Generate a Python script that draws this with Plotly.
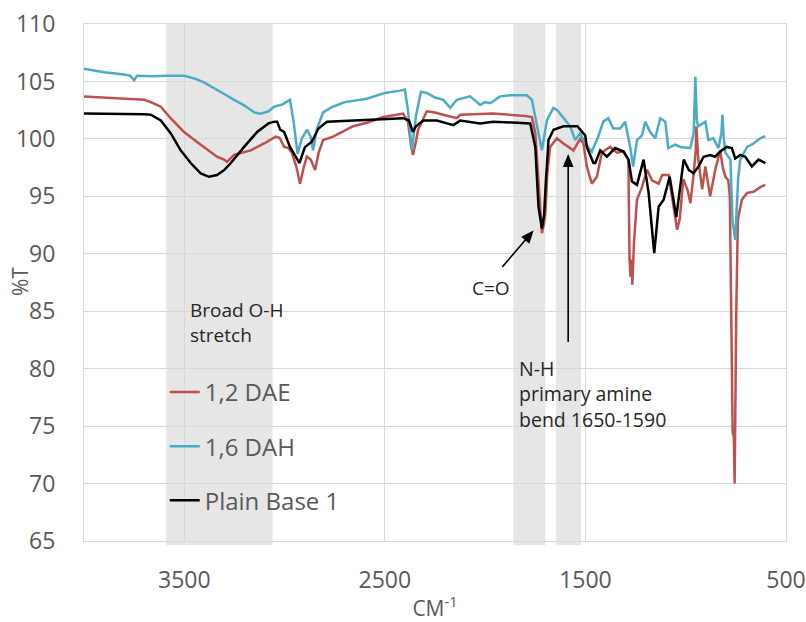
import plotly.graph_objects as go

# ---------------- data ----------------
dae_wn = [4000, 3900, 3800, 3700, 3667, 3617, 3568, 3501, 3418, 3337, 3302, 3287, 3252, 3169, 3102,
          3044, 3025, 3002, 2980, 2964, 2940, 2923, 2905, 2889, 2870, 2848, 2830, 2808, 2758, 2658,
          2590, 2508, 2409, 2385, 2370, 2360, 2345, 2334, 2291, 2250, 2209, 2141, 2124, 2000, 1960,
          1800, 1767, 1750, 1735, 1717, 1708, 1700, 1690, 1676, 1642, 1610, 1560, 1526, 1510, 1493,
          1468, 1443, 1436, 1418, 1411, 1377, 1343, 1310, 1286, 1280, 1275, 1270, 1266, 1258, 1243,
          1218, 1193, 1168, 1135, 1117, 1085, 1043, 1030, 1012, 990, 977, 962, 950, 947, 940,
          937, 918, 902, 878, 853, 828, 815, 802, 788, 780, 770, 766, 760, 756, 748,
          740, 720, 694, 662, 628, 603]
dae_T = [103.7, 103.6, 103.5, 103.4, 103.2, 102.8, 101.8, 100.6, 99.5, 98.45, 98.2, 98.0, 98.6, 99.0, 99.6,
         100.2, 100.1, 99.3, 99.2, 98.8, 97.5, 96.1, 97.5, 98.45, 98.2, 97.3, 98.8, 99.9, 100.2, 101.1,
         101.4, 101.9, 102.2, 101.5, 99.5, 98.6, 99.8, 100.8, 102.4, 102.3, 102.1, 101.8, 102.1, 102.2, 102.2,
         102.0, 101.9, 100.5, 96.4, 91.8, 92.5, 93.5, 97.0, 99.3, 100.05, 99.6, 99.0, 100.0, 99.6, 97.6,
         96.1, 96.7, 97.3, 98.8, 98.9, 99.3, 98.8, 98.9, 98.2, 89.5, 88.0, 89.5, 87.3, 91.0, 94.7,
         95.8, 97.3, 96.4, 96.1, 96.85, 96.85, 92.1, 93.0, 96.5, 95.5, 94.4, 96.7, 99.0, 101.1, 99.0,
         98.2, 95.6, 97.6, 95.0, 97.3, 99.0, 97.5, 96.7, 96.4, 95.0, 78.0, 74.5, 74.0, 70.0, 85.0,
         93.0, 94.7, 95.3, 95.4, 95.8, 96.0]

dah_wn = [4000, 3900, 3800, 3770, 3750, 3735, 3650, 3590, 3500, 3440, 3400, 3336, 3290, 3252, 3200,
          3150, 3119, 3080, 3052, 3010, 2973, 2955, 2935, 2915, 2888, 2870, 2858, 2840, 2808, 2760,
          2700, 2590, 2500, 2424, 2400, 2385, 2365, 2345, 2320, 2290, 2250, 2209, 2174, 2141, 2100,
          2075, 2025, 2000, 1975, 1925, 1875, 1792, 1767, 1742, 1717, 1692, 1660, 1640, 1626, 1600,
          1576, 1551, 1526, 1501, 1476, 1468, 1436, 1411, 1386, 1361, 1327, 1302, 1277, 1262, 1243,
          1218, 1202, 1177, 1152, 1127, 1102, 1087, 1052, 1027, 977, 960, 952, 944, 937, 902,
          887, 862, 837, 822, 817, 810, 802, 777, 767, 753, 738, 728, 694, 662, 628,
          603]
dah_T = [106.1, 105.8, 105.6, 105.5, 105.1, 105.5, 105.45, 105.5, 105.5, 105.2, 104.9, 104.3, 103.8, 103.4, 102.9,
         102.3, 102.2, 102.4, 102.8, 103.0, 103.4, 101.5, 98.7, 100.0, 100.8, 100.2, 99.0, 100.8, 102.3, 102.8,
         103.2, 103.5, 104.0, 104.2, 104.3, 102.5, 99.0, 102.0, 104.1, 104.0, 103.6, 103.4, 102.7, 103.4, 103.6,
         103.7, 102.95, 103.2, 103.1, 103.7, 103.8, 103.8, 103.4, 101.1, 99.0, 101.6, 102.7, 102.5, 102.2, 101.6,
         101.1, 99.9, 100.5, 99.6, 99.0, 98.9, 100.2, 101.5, 101.8, 100.9, 100.9, 101.5, 99.3, 97.6, 99.9,
         100.3, 101.5, 100.6, 100.05, 101.8, 101.5, 99.2, 99.5, 99.3, 99.2, 100.5, 105.4, 101.5, 101.1, 101.5,
         99.9, 100.05, 99.2, 100.5, 102.1, 100.0, 98.8, 98.2, 92.9, 91.2, 96.7, 98.2, 99.3, 99.6, 100.05,
         100.25]

base_wn = [4000, 3800, 3700, 3667, 3617, 3568, 3518, 3468, 3418, 3377, 3337, 3300, 3268, 3202, 3137,
           3080, 3052, 3037, 3022, 3002, 2973, 2926, 2898, 2864, 2831, 2789, 2658, 2409, 2380, 2360,
           2345, 2308, 2241, 2158, 2124, 2025, 1960, 1775, 1750, 1734, 1717, 1706, 1697, 1684, 1659,
           1610, 1540, 1515, 1501, 1493, 1476, 1460, 1451, 1426, 1393, 1352, 1310, 1285, 1268, 1243,
           1210, 1185, 1157, 1135, 1110, 1080, 1047, 1010, 985, 961, 936, 911, 878, 853, 828,
           795, 770, 753, 728, 703, 670, 637, 603]
base_T = [102.2, 102.2, 102.15, 102.1, 101.6, 100.5, 99.0, 97.9, 97.0, 96.7, 96.85, 97.3, 97.9, 99.3, 100.6,
          101.35, 101.5, 101.5, 100.8, 100.6, 99.3, 97.9, 99.3, 99.75, 100.9, 101.5, 101.6, 101.8, 101.6, 100.6,
          101.1, 101.6, 101.6, 101.2, 101.6, 101.35, 101.5, 101.35, 99.3, 94.1, 92.2, 93.4, 96.4, 99.9, 100.8,
          101.1, 101.1, 100.6, 100.3, 99.3, 98.6, 97.9, 97.9, 99.0, 98.45, 99.2, 98.9, 98.2, 96.3, 96.0,
          98.2, 95.3, 90.05, 94.1, 94.7, 96.7, 93.2, 98.2, 97.3, 97.0, 97.6, 98.45, 98.6, 98.45, 98.9,
          99.3, 99.2, 98.3, 98.6, 98.45, 97.6, 98.2, 97.9]

series_names = ["1,2 DAE", "1,6 DAH", "Plain Base 1"]
series_colors = ["#c0504d", "#4bacc6", "#000000"]

# shaded regions (wavenumber ranges)
bands = [(3590, 3060), (1860, 1700), (1646, 1522)]
x_ticks = [3500, 2500, 1500, 500]

FONT = "Open Sans, Noto Sans, sans-serif"
GRID = "#d9d9d9"
TXT = "#595959"
NOTE = "#262626"

fig = go.Figure()
for i, (wn, t) in enumerate([(dae_wn, dae_T), (dah_wn, dah_T), (base_wn, base_T)]):
    fig.add_trace(go.Scatter(
        x=wn, y=t, mode="lines", name=series_names[i],
        legendgroup=series_names[i],
        line=dict(color=series_colors[i], width=2.5),
    ))

for x0, x1 in bands:
    fig.add_shape(type="rect", xref="x", yref="paper", x0=x0, x1=x1, y0=-0.008, y1=1,
                  fillcolor="#e6e6e6", line=dict(width=0), layer="below")

# text annotations
fig.add_annotation(x=3481, y=86.4, xref="x", yref="y", text="Broad O-H<br>stretch",
                   showarrow=False, xanchor="left", yanchor="top", align="left",
                   font=dict(family=FONT, size=19, color=NOTE))
fig.add_annotation(x=1840, y=81.4, xref="x", yref="y",
                   text="N-H<br>primary amine<br>bend 1650-1590",
                   showarrow=False, xanchor="left", yanchor="top", align="left",
                   font=dict(family=FONT, size=19.5, color=NOTE))
fig.add_annotation(x=1970, y=87.0, xref="x", yref="y", text="C=O", showarrow=False,
                   font=dict(family=FONT, size=19, color=NOTE))

# arrows drawn as pixel-sized paths anchored at the arrow head
def arrow_path(dx, dy, head=10, half=4.2):
    # tail offset (dx, dy) in px relative to head (y up), triangle head at (0, 0)
    L = (dx * dx + dy * dy) ** 0.5
    ux, uy = -dx / L, -dy / L
    bx, by = -ux * head, -uy * head
    px, py = -uy * half, ux * half
    return (f"M{dx:.2f},{dy:.2f} L{bx:.2f},{by:.2f} "
            f"M0,0 L{bx + px:.2f},{by + py:.2f} L{bx - px:.2f},{by - py:.2f} Z")

for hx, hy, tdx, tdy in [(1765, 91.9, -30, -35), (1586, 98.5, 0, -186)]:
    fig.add_shape(type="path", xref="x", yref="y", xsizemode="pixel", ysizemode="pixel",
                  xanchor=hx, yanchor=hy, path=arrow_path(tdx, tdy),
                  line=dict(color="#000000", width=1.6), fillcolor="#000000", layer="above")

# y-axis title
plot_w, plot_h = 806 - 84 - 20, 622 - 24 - 81
fig.add_annotation(x=(20 - 84) / plot_w, y=(541 - 282) / plot_h, xref="paper", yref="paper",
                   text="%T", showarrow=False, textangle=-90, xanchor="center", yanchor="middle",
                   font=dict(family=FONT, size=21, color=TXT))

fig.update_layout(
    width=806, height=622,
    margin=dict(l=84, r=20, t=24, b=81, autoexpand=False),
    paper_bgcolor="white", plot_bgcolor="rgba(0,0,0,0)",
    font=dict(family=FONT, color=TXT),
    showlegend=True,
    legend=dict(x=0.115, y=0.331, xanchor="left", yanchor="top",
                bgcolor="rgba(0,0,0,0)", font=dict(family=FONT, size=24, color=TXT),
                traceorder="grouped", tracegroupgap=20),
    xaxis=dict(range=[4000, 500], tickvals=x_ticks, showgrid=True, gridcolor=GRID, gridwidth=1,
               showline=True, linecolor=GRID, mirror=True, ticks="", zeroline=False,
               automargin=False,
               tickfont=dict(family=FONT, size=23, color=TXT), ticklabelstandoff=18,
               title=dict(text="CM<sup>-1</sup>", font=dict(family=FONT, size=21, color=TXT),
                          standoff=14)),
    yaxis=dict(range=[65, 110], dtick=5, tick0=65, showgrid=True, gridcolor=GRID, gridwidth=1,
               showline=True, linecolor=GRID, mirror=True, ticks="", zeroline=False,
               automargin=False,
               tickfont=dict(family=FONT, size=23, color=TXT), ticklabelstandoff=23),
)

fig.write_html("out.html")
